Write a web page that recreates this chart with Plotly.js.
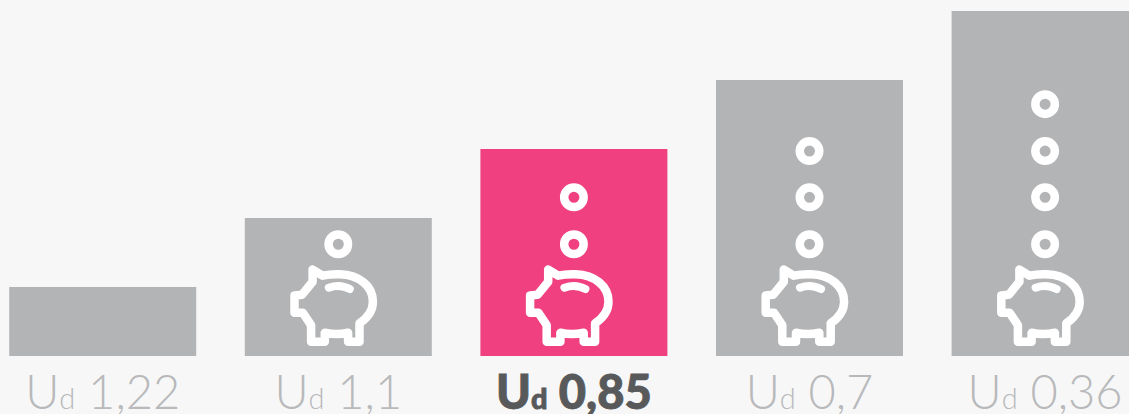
<!DOCTYPE html>
<html>
<head>
<meta charset="utf-8">
<script src="https://cdn.plot.ly/plotly-3.0.1.min.js"></script>
<style>html,body{margin:0;padding:0;background:#f7f7f7;overflow:hidden}</style>
</head>
<body>
<div id="chart" style="width:1129px;height:414px"></div>
<script>
const categories = [0, 1, 2, 3, 4];
const barLevels = [1, 2, 3, 4, 5];
const uValues = ["1,22", "1,1", "0,85", "0,7", "0,36"];
const highlighted = 2;
const coinX = [1, 2, 2, 3, 3, 3, 4, 4, 4, 4];
const coinY = [1.62, 1.62, 2.3, 1.62, 2.3, 2.97, 1.62, 2.3, 2.97, 3.65];
const piggyBars = [1, 2, 3, 4];

const GREY = "#b3b4b6", PINK = "#f04080", BG = "#f7f7f7";
const piggySvg = '<svg xmlns="http://www.w3.org/2000/svg" width="400" height="400" viewBox="0 0 100 100">' +
  '<g fill="none" stroke="#ffffff" stroke-linejoin="round" stroke-linecap="round">' +
  '<path stroke-width="8.5" d="M 24.3 13.5 L 34.2 19.7 C 40 18.4 46 18.1 51.5 18.3 C 71 19 84.6 30 84.6 45.7 C 84.6 54 79 62 71.2 67.3 L 71.2 85.6 L 59.8 85.6 L 59.8 76.7 C 52 78.4 44 78.4 36.5 76.7 L 36.5 85.6 L 22.8 85.6 L 22.8 69 L 14.6 56.8 L 6.2 56.8 L 6.2 39.5 L 13.6 38.8 L 24.3 25.7 Z"/>' +
  '<path stroke-width="8" d="M 40.5 31.7 C 48 29 55 29.5 61.5 33"/></g></svg>';
const piggyUri = "data:image/svg+xml;base64," + btoa(piggySvg);

const tickText = uValues.map((v, i) => i === highlighted
  ? `<span style="fill:#58595b;stroke:#58595b;stroke-width:0.9px;font-weight:900">U<span style="font-size:29px">d</span> ${v}</span>`
  : `U<span style="font-size:29px">d</span> ${v}`);

const traces = [
  {type: "bar", x: categories, y: barLevels, width: 0.79372,
   marker: {color: categories.map(i => i === highlighted ? PINK : GREY), line: {width: 0}},
   hoverinfo: "skip"},
  {type: "scatter", mode: "markers", x: coinX, y: coinY,
   marker: {symbol: "circle-open", size: 19.5, color: "#ffffff", line: {color: "#ffffff", width: 8.5}},
   hoverinfo: "skip"}
];

const layout = {
  width: 1129, height: 414, showlegend: false,
  paper_bgcolor: BG, plot_bgcolor: BG,
  margin: {l: 0, r: 0, t: 0, b: 0, pad: 0},
  xaxis: {range: [-0.43591, 4.35611], tickmode: "array", tickvals: categories, ticktext: tickText,
    showgrid: false, zeroline: false, showline: false, ticks: "", ticklen: 0,
    tickangle: 0, ticklabelstandoff: 5, fixedrange: true, automargin: false,
    tickfont: {family: "Lato, sans-serif", size: 47, color: "#b8b9bb", weight: 300}},
  yaxis: {domain: [0.14, 1], range: [0, 5.159], visible: false, fixedrange: true},
  images: piggyBars.map(i => ({
    source: piggyUri, xref: "x", yref: "y", x: i, y: 0,
    sizex: 100 / 235.6, sizey: 100 / 69, sizing: "stretch",
    xanchor: "center", yanchor: "bottom", layer: "above"
  }))
};
Plotly.newPlot("chart", traces, layout, {displayModeBar: false, staticPlot: true});
</script>
</body>
</html>
